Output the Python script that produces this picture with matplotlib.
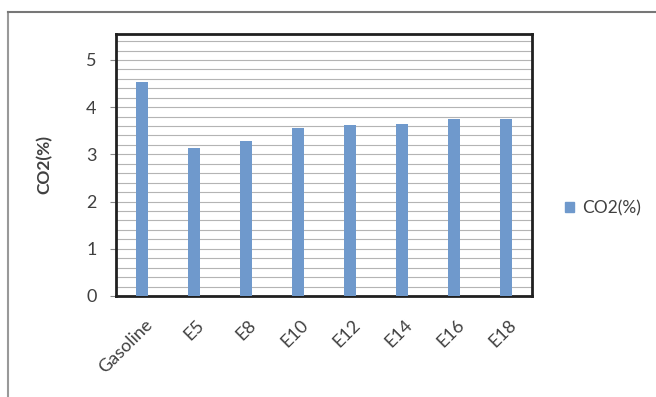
import numpy as np
import matplotlib
matplotlib.use("Agg")
import matplotlib.pyplot as plt
import matplotlib.transforms as mtransforms
from matplotlib.patches import Patch
from matplotlib.lines import Line2D

plt.rcParams['font.family'] = ['Lato', 'DejaVu Sans']

fuels = ['Gasoline', 'E5', 'E8', 'E10', 'E12', 'E14', 'E16', 'E18']
co2 = [4.53, 3.13, 3.28, 3.56, 3.62, 3.64, 3.76, 3.76]

bar_color = '#6f99cc'
text_color = '#404040'

fig = plt.figure(figsize=(6.56, 3.97), dpi=100)
ax = fig.add_axes([116 / 656, 1 - 296 / 397, 416 / 656, 262 / 397])

x = np.arange(len(fuels))
ax.bar(x, co2, width=0.23, color=bar_color, zorder=3)

ax.set_xlim(-0.5, len(fuels) - 0.5)
ax.set_ylim(0, 5.55)
ax.set_yticks(np.arange(0, 6, 1))
ax.set_yticks(np.arange(0, 5.5, 0.2), minor=True)
ax.grid(axis='y', which='both', color='#b4b4b4', linewidth=0.8, zorder=0)
ax.set_axisbelow(True)

ax.set_xticks(x)
ax.set_xticklabels(fuels, rotation=45, ha='right', va='center',
                   rotation_mode='anchor', fontsize=13, color=text_color)
ax.tick_params(axis='x', length=0, pad=19)
# nudge the slanted labels a little to the right
shift = mtransforms.ScaledTranslation(8 / 100, 0, fig.dpi_scale_trans)
for lbl in ax.get_xticklabels():
    lbl.set_transform(lbl.get_transform() + shift)

ax.tick_params(axis='y', which='major', length=4, width=0.8, color='#888888',
               pad=10, labelsize=13, labelcolor=text_color)
ax.tick_params(axis='y', which='minor', length=0)

for s in ax.spines.values():
    s.set_linewidth(2)
    s.set_color('#202020')

ax.set_ylabel('CO2(%)', fontsize=12.5, fontweight='bold', color=text_color,
              labelpad=24)

fig.legend(handles=[Patch(color=bar_color, label='CO2(%)')],
           loc='center left', bbox_to_anchor=(549 / 656, 1 - 208 / 397),
           frameon=False, fontsize=12.5, handlelength=0.55, handleheight=0.55,
           handletextpad=0.45, labelcolor=text_color)

# outer chart border
fig.add_artist(Line2D([8 / 656, 8 / 656], [0, 1 - 12 / 397],
                      transform=fig.transFigure, color='#999999', lw=1.5))
fig.add_artist(Line2D([8 / 656, 1], [1 - 12 / 397, 1 - 12 / 397],
                      transform=fig.transFigure, color='#777777', lw=1.5))

fig.savefig('out.png', dpi=100)
